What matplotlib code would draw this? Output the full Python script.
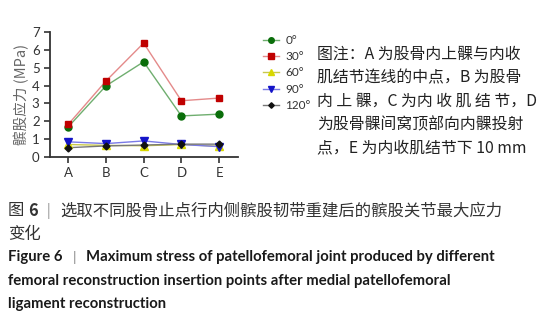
import matplotlib
matplotlib.use("Agg")
import matplotlib.pyplot as plt
from matplotlib.lines import Line2D

plt.rcParams["font.family"] = ["Lato", "Noto Sans CJK SC", "DejaVu Sans"]

# Data
points = ["A", "B", "C", "D", "E"]
angles = ["0°", "30°", "60°", "90°", "120°"]
stress_0 = [1.68, 3.98, 5.33, 2.30, 2.40]
stress_30 = [1.82, 4.25, 6.38, 3.15, 3.30]
stress_60 = [0.70, 0.65, 0.63, 0.70, 0.60]
stress_90 = [0.85, 0.75, 0.90, 0.70, 0.58]
stress_120 = [0.52, 0.62, 0.67, 0.72, 0.72]
y_ticks = [0, 1, 2, 3, 4, 5, 6, 7]

series = [stress_0, stress_30, stress_60, stress_90, stress_120]
marker_colors = ["#0a6e0a", "#c00000", "#d8d800", "#1414c8", "#111111"]
line_colors = ["#6fae6f", "#e48a8a", "#c9c94a", "#7a7ae6", "#777777"]
markers = ["o", "s", "^", "v", "D"]
sizes = [5, 5, 5.5, 5.5, 3.5]

CJK = ["Noto Sans CJK SC", "DejaVu Sans"]

fig = plt.figure(figsize=(5.6, 3.24), dpi=100)
ax = fig.add_axes([50 / 560, 1 - 157 / 324, 188 / 560, 125 / 324])

x = list(range(len(points)))
handles = []
for vals, mc, lc, mk, ms, lab in zip(series, marker_colors, line_colors, markers, sizes, angles):
    ax.plot(x, vals, color=lc, lw=1.0, zorder=2)
    ax.plot(x, vals, linestyle="none", marker=mk, ms=ms, color=mc, zorder=3)
    handles.append(Line2D([], [], color=lc, lw=1.0, marker=mk, ms=ms * 0.8,
                          markerfacecolor=mc, markeredgecolor=mc, label=lab))

ax.set_xlim(-0.48, 4.5)
ax.set_ylim(0, 7)
ax.set_xticks(x)
ax.set_xticklabels(points)
ax.set_yticks(y_ticks)
for s in ["top", "right"]:
    ax.spines[s].set_visible(False)
for s in ["left", "bottom"]:
    ax.spines[s].set_linewidth(1.3)
    ax.spines[s].set_color("#333333")
ax.tick_params(axis="both", length=4, width=1.2, color="#333333",
               labelsize=9.5, labelcolor="#333333")
ax.set_ylabel("髌股应力 (MPa)", fontsize=10.5, color="#666666",
              family=CJK, labelpad=2)

fig.legend(handles=handles, loc="upper left", bbox_to_anchor=(258 / 560, 1 - 30 / 324),
           frameon=False, fontsize=8.5, handlelength=1.4, handletextpad=0.5,
           labelspacing=0.45, borderaxespad=0, labelcolor="#333333")

note = ["图注：A 为股骨内上髁与内收",
        "肌结节连线的中点，B 为股骨",
        "内 上 髁，C 为内 收 肌 结 节，D",
        "为股骨髁间窝顶部向内髁投射",
        "点，E 为内收肌结节下 10 mm"]
for i, line in enumerate(note):
    fig.text(317 / 560, 1 - (54 + i * 23.5) / 324, line, fontsize=11.4,
             color="#222222", va="center", ha="left", family=CJK)

renderer = fig.canvas.get_renderer()


def write_run(x0, y0, pieces, **kw):
    """Writes text pieces one after another on one line; gap is in pixels."""
    xpos = x0
    for txt, gap, extra in pieces:
        opts = dict(kw)
        opts.update(extra)
        t = fig.text(xpos, y0, txt, va="center", ha="left", **opts)
        bb = t.get_window_extent(renderer)
        xpos += (bb.width + gap) / fig.bbox.width


sep = {"color": "#888888", "fontweight": "normal", "fontsize": 10}

cn_y = 1 - 211 / 324
write_run(8 / 560, cn_y,
          [("图", 4, {}), ("6", 9, {"fontweight": "bold"}), ("|", 9, sep),
           ("选取不同股骨止点行内侧髌股韧带重建后的髌股关节最大应力", 0, {})],
          fontsize=11.8, color="#333333", family=CJK)
fig.text(8 / 560, 1 - 235 / 324, "变化", fontsize=11.8, color="#333333",
         va="center", ha="left", family=CJK)

en_y = 1 - 257 / 324
write_run(8 / 560, en_y,
          [("Figure 6", 10, {}), ("|", 10, sep),
           ("Maximum stress of patellofemoral joint produced by different", 0, {})],
          fontsize=10.7, color="#1a1a1a", fontweight="bold")
en_rest = ["femoral reconstruction insertion points after medial patellofemoral",
           "ligament reconstruction"]
for i, line in enumerate(en_rest):
    fig.text(8 / 560, 1 - (280.5 + i * 23.5) / 324, line, fontsize=10.7,
             color="#1a1a1a", va="center", ha="left", fontweight="bold")

fig.savefig("out.png", dpi=100)
